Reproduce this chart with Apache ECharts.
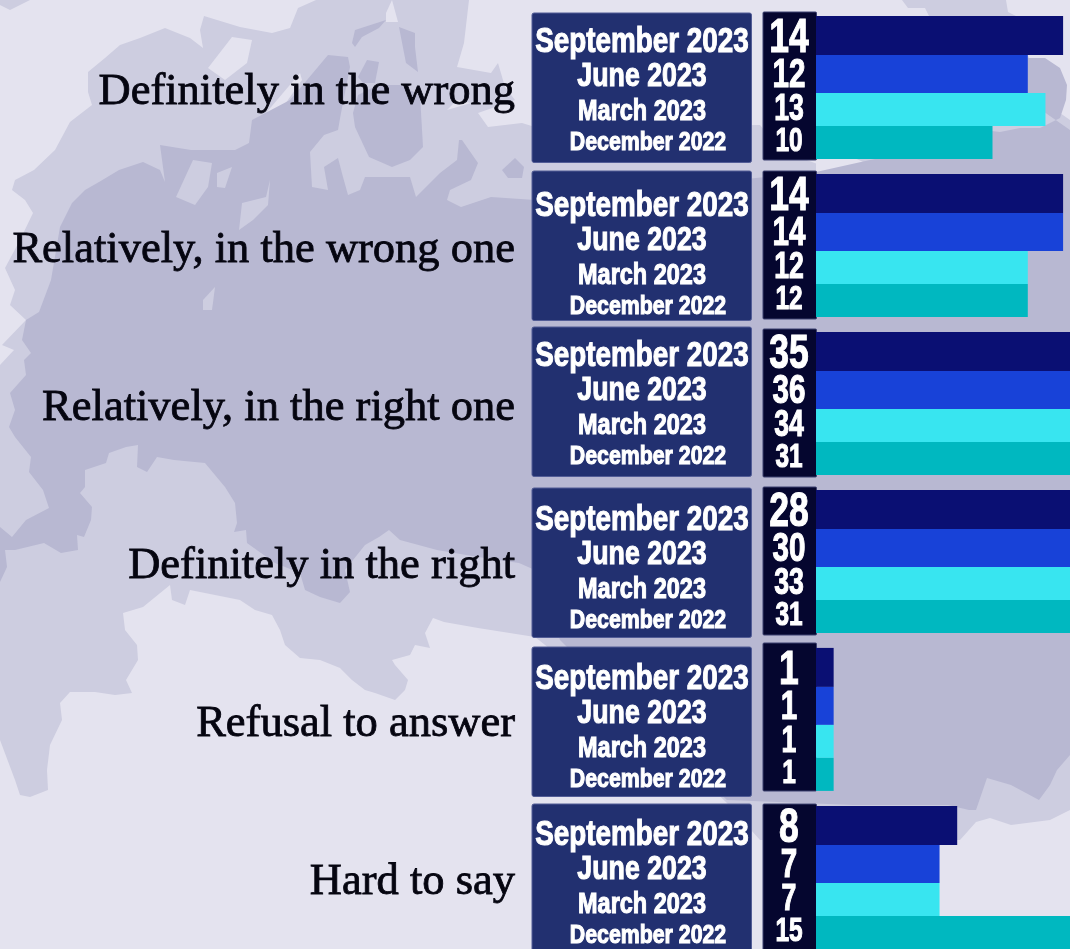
<!DOCTYPE html>
<html>
<head>
<meta charset="utf-8">
<style>html,body{margin:0;padding:0;background:#e4e3ef}#c{width:1070px;height:949px}</style>
<script src="https://cdn.jsdelivr.net/npm/echarts@6/dist/echarts.min.js"></script>
</head>
<body>
<div id="c"></div>
<script>
const categories = ['Definitely in the wrong','Relatively, in the wrong one','Relatively, in the right one','Definitely in the right','Refusal to answer','Hard to say'];
const periods = ['September 2023','June 2023','March 2023','December 2022'];
const september2023 = [14,14,35,28,1,8];
const june2023 = [12,14,36,30,1,7];
const march2023 = [13,12,34,33,1,7];
const december2022 = [10,12,31,31,1,15];

// layout (pixels)
const LIGHT='#e4e3ef', MID='#cdcde0', DARK='#b8b8d2';
const labelBoxTop=[13,171,327,488,647,804];
const numBoxTop=[12,171,329,487,643,804];
const firstRowShift=[29,35,29,32,32,31];
const rowOffsets=[0,35,69.5,101];
const rowCenterX=[642,642,642,648];
const rowFont=[35,33,29,26];
const rowScale=[0.795,0.81,0.81,0.82];
const barWidths=[39,38,33,33];
const numFont=[48,40,36,33];
const numOffset=[-49,-11,23,55];
const barColors=['#0a0f73','#1842d8','#38e5f0','#00b8c0'];

const midLand=[[316,0],[298,8],[290,28],[272,33],[240,27],[204,16],[200,30],[203,48],[190,38],[165,28],[140,38],[120,45],[105,58],[88,72],[88,92],[92,105],[70,122],[55,150],[34,170],[15,180],[12,190],[25,200],[33,213],[20,240],[5,268],[15,290],[10,305],[26,320],[2,345],[14,350],[0,365],[0,740],[15,780],[20,795],[30,797],[48,790],[47,770],[50,745],[62,720],[60,703],[70,692],[95,692],[115,695],[132,693],[126,680],[138,660],[137,645],[125,630],[123,613],[143,607],[170,585],[172,600],[185,605],[190,590],[240,600],[255,610],[272,615],[280,630],[285,645],[300,658],[320,660],[340,668],[352,680],[365,690],[375,693],[395,700],[405,690],[408,680],[395,665],[392,660],[410,655],[415,645],[430,648],[425,633],[433,618],[444,622],[478,628],[535,637],[640,720],[727,803],[760,840],[946,840],[960,840],[976,822],[990,818],[1011,825],[1050,820],[1070,810],[1070,120],[1060,113],[1042,95],[1030,60],[1010,18],[930,18],[925,8],[908,8],[902,0],[1006,0],[1008,12],[1020,18],[820,18],[820,165],[780,150],[760,125],[535,127],[522,123],[488,127],[478,113],[515,100],[505,87],[498,63],[491,73],[457,67],[464,43],[469,0]];
const darkLand=[[51,280],[60,227],[72,203],[85,190],[99,182],[119,170],[143,162],[160,170],[165,182],[160,145],[191,150],[235,150],[249,143],[252,120],[290,100],[307,80],[328,55],[348,57],[350,67],[341,113],[338,130],[324,135],[310,152],[312,187],[328,190],[324,167],[338,158],[343,177],[348,195],[360,190],[365,177],[410,177],[416,197],[440,173],[457,160],[459,140],[462,140],[478,163],[471,180],[450,190],[447,200],[461,207],[491,197],[535,200],[816,172],[870,160],[920,150],[950,135],[983,130],[1000,132],[1020,128],[1040,128],[1060,118],[1066,100],[1067,85],[1060,68],[1045,58],[1027,58],[1027,100],[1070,130],[1070,755],[1057,770],[1050,785],[1039,800],[1011,785],[987,778],[976,810],[969,810],[948,805],[878,805],[853,805],[727,800],[640,720],[560,640],[535,570],[519,563],[478,557],[437,550],[400,540],[389,530],[379,537],[365,545],[345,570],[350,592],[340,603],[320,597],[305,590],[300,573],[275,563],[247,543],[246,530],[234,532],[237,523],[235,503],[225,487],[205,463],[174,460],[157,457],[147,472],[137,467],[138,445],[126,447],[109,453],[106,463],[85,470],[85,487],[80,493],[92,507],[91,520],[84,537],[77,535],[78,550],[61,553],[44,543],[15,550],[5,550],[7,567],[0,582],[0,527],[12,537],[26,520],[49,508],[43,490],[29,472],[31,457],[15,437],[9,427],[15,410],[10,393],[26,375],[24,360],[31,353],[22,340],[26,320],[39,312]];
const midOnDark=[
 [[176,197],[193,160],[212,163],[208,187],[195,205]],
 [[217,173],[232,167],[225,188],[217,187]],
 [[242,203],[266,197],[270,180],[268,205],[253,220],[239,230]],
 [[203,300],[215,287],[212,310],[203,310]]
];
const lightOnMid=[
 [[208,68],[232,37],[252,40],[247,63],[225,80]],
 [[266,113],[283,93],[300,73],[302,80],[283,107]],
 [[386,13],[392,0],[398,22],[386,22]],
 [[447,110],[457,100],[471,103]],
 [[816,156],[850,156],[872,166],[816,174]]
];
const darkOnMid=[
 [[352,43],[355,30],[386,20],[379,28],[362,37],[355,47]],
 [[399,27],[415,33],[415,47],[418,72],[406,63]],
 [[358,77],[367,60],[379,62],[375,83],[363,83]],
 [[353,113],[358,95],[378,85],[400,85],[420,95],[423,147],[410,160],[392,167],[369,157],[355,127]],
 [[502,170],[515,158],[524,167],[522,178],[508,178]]
];
const midCorner=[[0,0],[30,0],[20,5],[10,10],[0,5]];

function poly(points,fill,z){return {type:'polygon',silent:true,z:z,shape:{points:points},style:{fill:fill}};}
const graphics=[];
graphics.push(poly(midLand,MID,0));
graphics.push(poly(midCorner,MID,0));
lightOnMid.forEach(p=>graphics.push(poly(p,LIGHT,0)));
darkOnMid.forEach(p=>graphics.push(poly(p,DARK,0)));
graphics.push(poly(darkLand,DARK,0));
midOnDark.forEach(p=>graphics.push(poly(p,MID,0)));

categories.forEach((c,i)=>{
  graphics.push({type:'rect',silent:true,z:1,shape:{x:532,y:labelBoxTop[i],width:219.5,height:149.5,r:2},style:{fill:'#223070',stroke:'#525c96',lineWidth:1}});
  graphics.push({type:'rect',silent:true,z:1,shape:{x:763,y:numBoxTop[i],width:53.5,height:148,r:1},style:{fill:'#05062f',stroke:'#3d4170',lineWidth:1}});
  periods.forEach((p,r)=>{
    graphics.push({type:'text',silent:true,z:3,x:rowCenterX[r],y:labelBoxTop[i]+firstRowShift[i]+rowOffsets[r],scaleX:rowScale[r],
      style:{text:p,align:'center',verticalAlign:'middle',fill:'#ffffff',stroke:'#ffffff',lineWidth:1.1,font:'bold '+rowFont[r]+'px "Liberation Sans"'}});
  });
});

const seriesData=[september2023,june2023,march2023,december2022];
const series=periods.map((p,k)=>({
  name:p,type:'bar',data:seriesData[k],barWidth:barWidths[k],barGap:0,z:2,
  itemStyle:{color:barColors[k]}
}));
periods.forEach((p,k)=>{
  series.push({
    type:'custom',name:p+' value',z:4,silent:true,
    data:seriesData[k].map((v,i)=>[v,i]),
    encode:{x:0,y:1},
    renderItem:function(params,api){
      const c=api.coord([0,api.value(1)]);
      return {type:'text',x:c[0]-27,y:c[1]+numOffset[k],scaleX:0.74,
        style:{text:String(api.value(0)),align:'center',verticalAlign:'middle',fill:'#ffffff',stroke:'#ffffff',lineWidth:1.1,font:'bold '+numFont[k]+'px "Liberation Sans"'}};
    }
  });
});

const chart=echarts.init(document.getElementById('c'),null,{renderer:'canvas'});
chart.setOption({
  animation:false,
  backgroundColor:LIGHT,
  grid:{left:816,top:8.4,width:706,height:948,containLabel:false,outerBoundsMode:'none'},
  xAxis:{type:'value',min:0,max:40,show:false},
  yAxis:{type:'category',inverse:true,data:categories,
    axisLine:{show:false},axisTick:{show:false},
    axisLabel:{margin:301,color:'#050510',fontFamily:'Liberation Serif',fontSize:44.5,verticalAlign:'top',lineHeight:10,textBorderColor:'#050510',textBorderWidth:0.8}},
  graphic:{elements:graphics},
  series:series
});
</script>
</body>
</html>
